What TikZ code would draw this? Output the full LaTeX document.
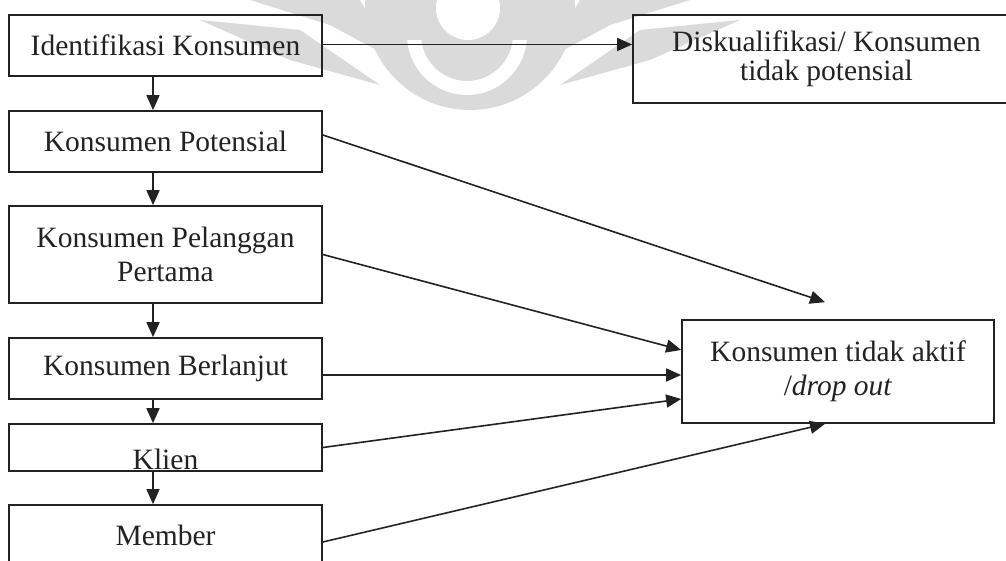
\documentclass[tikz,border=0pt]{standalone}
\usepackage{fontspec}
\setmainfont{Liberation Serif}
\usetikzlibrary{arrows.meta}
\definecolor{ink}{HTML}{222222}
\definecolor{logogray}{HTML}{DADADA}
\begin{document}
\begin{tikzpicture}[x=1pt,y=-1pt,
  box/.style={draw=ink, line width=1.7pt, rectangle, inner sep=0pt, align=center,
    font=\fontsize{29.5}{34}\selectfont, text=ink, minimum width=313pt},
  flow/.style={draw=ink, line width=1.6pt, -{Triangle[length=15pt,width=13pt]}},
]
\useasboundingbox (0,0) rectangle (1006,561);
\clip (0,0) rectangle (1006,561);

% faint logo in the background
\begin{scope}
  \fill[logogray] (470,5) circle (105);
  \fill[logogray] (250,0) -- (360,0) -- (395,60) -- (330,25) -- cycle;
  \fill[logogray] (200,20) -- (300,30) -- (380,85) -- (290,60) -- cycle;
  \fill[logogray] (690,0) -- (580,0) -- (545,60) -- (610,25) -- cycle;
  \fill[logogray] (740,20) -- (640,30) -- (560,85) -- (650,60) -- cycle;
  \fill[white, even odd rule] (467,35) circle (60) (467,35) circle (46);
  \fill[logogray] (380,-30) rectangle (560,40);
  \fill[white] (468,8) circle (32);
\end{scope}

% stages of the customer
\node[box, minimum height=61pt] (ident) at (165.5,45.5) {Identifikasi Konsumen};
\node[box, minimum height=61pt] (pot) at (165.5,141.5) {Konsumen Potensial};
\node[box, minimum height=97pt] (first) at (165.5,254.5) {Konsumen Pelanggan\\Pertama};
\node[box, minimum height=61pt] (cont) at (165.5,368.5) {Konsumen Berlanjut};
\node[box, minimum height=47pt, text height=44pt, text depth=0pt] (klien) at (165.5,447.5) {Klien};
\node[box, minimum height=61pt] (member) at (165.5,535.5) {Member};

% outcomes
\node[box, minimum width=387pt, minimum height=88pt, font=\fontsize{29.5}{28.5}\selectfont]
  (disk) at (826.5,59) {Diskualifikasi/ Konsumen\\tidak potensial};
\node[box, minimum width=312pt, minimum height=103pt] (aktif) at (838,371.5)
  {Konsumen tidak aktif\\/\textit{drop out}};

% flow down the stages
\foreach \a/\b in {ident/pot, pot/first, first/cont, cont/klien, klien/member}
  \draw[flow] ([xshift=-12.5pt]\a.south) -- ([xshift=-12.5pt]\b.north);

% branches
\draw[flow] ([yshift=1pt]ident.east) -- ([yshift=1pt]ident.east -| disk.west);
\draw[flow] ([yshift=6.5pt]pot.east) -- ([xshift=-13pt,yshift=17pt]aktif.north);
\draw[flow] (first.east) -- ([yshift=21.5pt]aktif.west);
\draw[flow] ([yshift=-6.5pt]cont.east) -- ([yshift=-3.5pt]aktif.west);
\draw[flow] (klien.east) -- ([yshift=-27.5pt]aktif.west);
\draw[flow] ([yshift=-6.5pt]member.east) -- ([xshift=-13pt]aktif.south);
\end{tikzpicture}
\end{document}
